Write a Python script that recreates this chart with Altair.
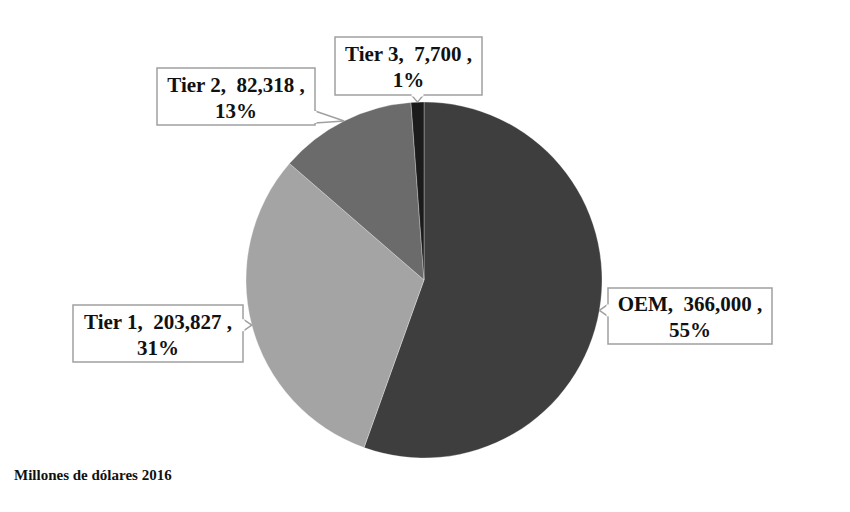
import altair as alt
import pandas as pd
import numpy as np

# ---- data ----
categories = ["OEM", "Tier 1", "Tier 2", "Tier 3"]
values = [366000, 203827, 82318, 7700]
value_labels = ["366,000", "203,827", "82,318", "7,700"]
percent_labels = ["55%", "31%", "13%", "1%"]
colors = ["#3e3e3e", "#a4a4a4", "#6b6b6b", "#1b1b1b"]
footer = "Millones de dólares 2016"

# ---- layout (chart pixel coordinates derived from page coords) ----
W, H = 834, 496
M = 8
CX, CY, R = 424 - M, 280 - M, 178
LH = 26
# label boxes in page coords: left, top, right, bottom
box_layout = {
    "OEM": (608, 288, 772, 344),
    "Tier 1": (73, 305, 243, 362),
    "Tier 2": (157, 68, 315, 125),
    "Tier 3": (335, 37, 482, 95),
}

total = float(sum(values))
cum = np.cumsum(values)
mid = (cum - np.array(values) / 2.0) / total
ang = 2 * np.pi * mid
tips_x = CX + R * np.sin(ang)
tips_y = CY - R * np.cos(ang)

pie_df = pd.DataFrame({
    "category": categories,
    "value": values,
    "order": list(range(len(categories))),
})

boxes, texts, wedges, covers = [], [], [], []
HALF = 6
for i, cat in enumerate(categories):
    l, t, r, b = [v - M for v in box_layout[cat]]
    boxes.append({"x": l, "x2": r, "y": t, "y2": b})
    texts.append({"x": (l + r) / 2, "y": (t + b) / 2 + 2 - LH / 2,
                  "label": f"{cat},\u00a0 {value_labels[i]} ,\n{percent_labels[i]}"})
    tx, ty = tips_x[i], tips_y[i]
    if t <= ty <= b:
        ex = r if tx > r else l
        cy_ = min(max(ty, t + HALF + 2), b - HALF - 2)
        p1, p2 = (ex, cy_ - HALF), (ex, cy_ + HALF)
    else:
        ey = b if ty > b else t
        cx_ = min(max(tx, l + HALF + 2), r - HALF - 2)
        p1, p2 = (cx_ - HALF, ey), (cx_ + HALF, ey)
    covers.append({"x": p1[0], "y": p1[1], "x2": p2[0], "y2": p2[1]})
    wedges.append({"x": p1[0], "y": p1[1], "x2": tx, "y2": ty})
    wedges.append({"x": p2[0], "y": p2[1], "x2": tx, "y2": ty})

xs = alt.Scale(domain=[0, W], range=[0, W])
ys = alt.Scale(domain=[0, H], range=[0, H])

pie = alt.Chart(pie_df).mark_arc(outerRadius=R, stroke="#ffffff", strokeWidth=0.3).encode(
    theta=alt.Theta("value:Q", stack=True),
    order=alt.Order("order:Q"),
    color=alt.Color("category:N", scale=alt.Scale(domain=categories, range=colors), legend=None),
    x=alt.value(CX),
    y=alt.value(CY),
)

box_layer = alt.Chart(pd.DataFrame(boxes)).mark_rect(
    fill="#ffffff", stroke="#a0a0a0", strokeWidth=1.5
).encode(
    x=alt.X("x:Q", scale=xs, axis=None), x2="x2:Q",
    y=alt.Y("y:Q", scale=ys, axis=None), y2="y2:Q",
)

cover_layer = alt.Chart(pd.DataFrame(covers)).mark_rule(
    color="#ffffff", strokeWidth=3
).encode(
    x=alt.X("x:Q", scale=xs, axis=None), x2="x2:Q",
    y=alt.Y("y:Q", scale=ys, axis=None), y2="y2:Q",
)

wedge_layer = alt.Chart(pd.DataFrame(wedges)).mark_rule(
    color="#a0a0a0", strokeWidth=1.5
).encode(
    x=alt.X("x:Q", scale=xs, axis=None), x2="x2:Q",
    y=alt.Y("y:Q", scale=ys, axis=None), y2="y2:Q",
)

text_layer = alt.Chart(pd.DataFrame(texts)).mark_text(
    font="Liberation Serif", fontWeight="bold", fontSize=21, color="#111111",
    align="center", baseline="middle", lineBreak="\n", lineHeight=LH,
).encode(
    x=alt.X("x:Q", scale=xs, axis=None),
    y=alt.Y("y:Q", scale=ys, axis=None),
    text="label:N",
)

footer_layer = alt.Chart(pd.DataFrame({"t": [footer]})).mark_text(
    font="Liberation Serif", fontWeight="bold", fontSize=15, color="#111111",
    align="left", baseline="alphabetic",
).encode(
    x=alt.value(14 - M), y=alt.value(480 - M), text="t:N",
)

chart = alt.layer(
    pie, wedge_layer, box_layer, cover_layer, text_layer, footer_layer
).properties(
    width=W, height=H, padding=0, autosize=alt.AutoSizeParams(type="none"),
    background="#ffffff",
).configure_view(stroke=None)

chart.save("out.html", embed_options={"renderer": "svg", "actions": False})
